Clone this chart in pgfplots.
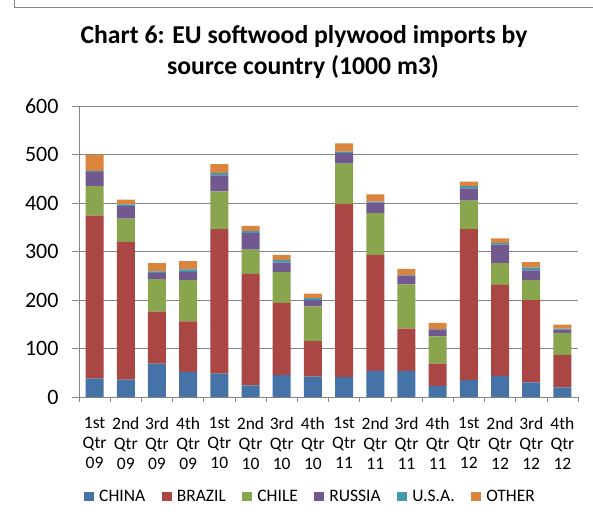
\documentclass[border=0pt]{standalone}
\usepackage{pgfplots}
\pgfplotsset{compat=1.18}
\usepackage{pgfplotstable}
\usepackage{fontspec}
\setmainfont{Carlito}
\definecolor{cChina}{HTML}{4572A7}
\definecolor{cBrazil}{HTML}{AA4643}
\definecolor{cChile}{HTML}{89A54E}
\definecolor{cRussia}{HTML}{71588F}
\definecolor{cUSA}{HTML}{4198AF}
\definecolor{cOther}{HTML}{DB843D}
\definecolor{gridgray}{RGB}{134,134,134}
\pgfplotstableread{
x China Brazil Chile Russia USA Other
0 38 336 61 29 2 34
1 36 284 48 26 3 10
2 69 107 67 13 3 17
3 52 104 85 17 5 17
4 48 298 78 33 5 18
5 24 230 50 34 4 11
6 45 149 64 19 6 10
7 42 73 72 13 4 9
8 41 357 83 22 3 17
9 54 239 86 22 2 15
10 54 87 91 18 1 13
11 23 46 56 14 1 13
12 35 311 59 25 5 9
13 43 188 45 38 4 9
14 30 170 41 20 6 11
15 20 67 45 7 2 8
}\data
\begin{document}
\begin{tikzpicture}[x=1pt,y=1pt]
\path[use as bounding box] (0,0) rectangle (593,517);
\draw[gridgray] (14,517) -- (14,510) -- (593,510);
\node[anchor=base,font=\bfseries\fontsize{25.7}{30}\selectfont] at (304,473) {Chart 6: EU softwood plywood imports by};
\node[anchor=base,font=\bfseries\fontsize{25.7}{30}\selectfont] at (303,442) {source country (1000 m3)};
\begin{axis}[
  at={(79pt,120pt)}, anchor=south west,
  scale only axis, width=499pt, height=291pt,
  xmin=-0.5, xmax=15.5, ymin=0, ymax=600,
  ybar stacked, bar width=18pt,
  ytick={0,100,...,600},
  ymajorgrids, grid style={gridgray, line width=0.6pt},
  axis x line=bottom, axis y line=left,
  axis line style={gridgray, line width=0.6pt, -},
  tick style={gridgray, line width=0.6pt},
  tick align=outside, major tick length=7pt,
  xtick style={/pgfplots/major tick length=5pt},
  xtick={-0.5,0.5,1.5,2.5,3.5,4.5,5.5,6.5,7.5,8.5,9.5,10.5,11.5,12.5,13.5,14.5,15.5},
  xticklabels={{1st\\Qtr\\09},{2nd\\Qtr\\09},{3rd\\Qtr\\09},{4th\\Qtr\\09},
               {1st\\Qtr\\10},{2nd\\Qtr\\10},{3rd\\Qtr\\10},{4th\\Qtr\\10},
               {1st\\Qtr\\11},{2nd\\Qtr\\11},{3rd\\Qtr\\11},{4th\\Qtr\\11},
               {1st\\Qtr\\12},{2nd\\Qtr\\12},{3rd\\Qtr\\12},{4th\\Qtr\\12},{}},
  xticklabel style={align=center, font=\fontsize{17.5}{20}\selectfont, xshift=15.6pt, yshift=-10pt},
  yticklabel style={font=\fontsize{22}{26}\selectfont, xshift=-10pt},
  /pgf/number format/assume math mode=true,
  legend columns=6,
  legend style={draw=none, fill=none, at={(0.004,-0.3436)}, anchor=west,
    font=\fontsize{17.5}{20}\selectfont,
    /tikz/every even column/.append style={column sep=14.5pt}},
  legend image code/.code={\path[#1,draw=none] (0pt,-4.5pt) rectangle (10pt,4.5pt); \path (0pt,0pt) -- (13pt,0pt);},
]
\addplot[fill=cChina, draw=none] table[x=x,y=China]{\data};
\addplot[fill=cBrazil, draw=none] table[x=x,y=Brazil]{\data};
\addplot[fill=cChile, draw=none] table[x=x,y=Chile]{\data};
\addplot[fill=cRussia, draw=none] table[x=x,y=Russia]{\data};
\addplot[fill=cUSA, draw=none] table[x=x,y=USA]{\data};
\addplot[fill=cOther, draw=none] table[x=x,y=Other]{\data};
\legend{CHINA,BRAZIL,CHILE,RUSSIA,U.S.A.,OTHER}
\end{axis}
\end{tikzpicture}
\end{document}
